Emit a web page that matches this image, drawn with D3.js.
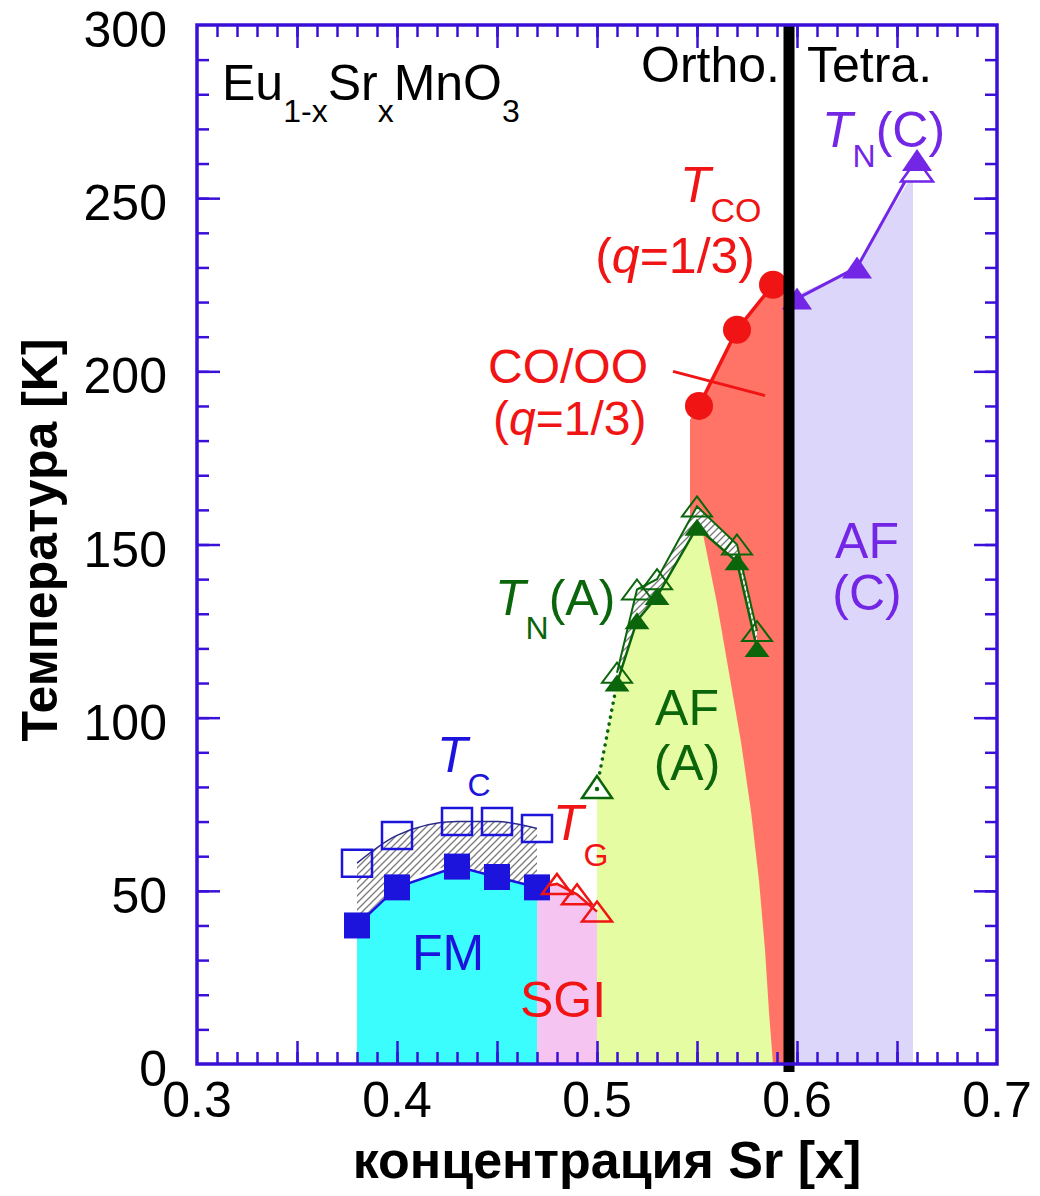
<!DOCTYPE html>
<html>
<head>
<meta charset="UTF-8">
<title>Eu1-xSrxMnO3 phase diagram</title>
<script src="https://cdn.jsdelivr.net/npm/d3@7"></script>
<style>
  body { margin: 0; background: #fff; }
  text { font-family: "Liberation Sans", Arial, Helvetica, sans-serif; }
  .tick-label { font-size: 50px; fill: #000; }
  .axis-title { font-size: 50px; font-weight: bold; fill: #000; }
  .lbl { font-size: 50px; }
</style>
</head>
<body>
<svg id="chart" width="1040" height="1196"></svg>
<script>
// ---- data (x = Sr concentration, T in K) ----
var xTickLabels = [0.3, 0.4, 0.5, 0.6, 0.7];
var yTickLabels = [0, 50, 100, 150, 200, 250, 300];

var fmX = [0.38, 0.40, 0.43, 0.45, 0.47];
var tcFilled = [40, 51, 57, 54, 51];      // filled squares
var tcOpen = [58, 66, 70, 70, 68];        // open squares

var tgX = [0.47, 0.48, 0.49, 0.50];
var tgVals = [51, 52, 49, 44];            // T_G open triangles (first = link to FM)

var tnaX = [0.51, 0.52, 0.53, 0.55, 0.57, 0.58];
var tnaFilled = [110, 128, 135, 155, 145, 120];
var tnaOpen = [113, 137, 140, 161, 150, 125];
var tnaLowX = [0.50, 0.51];               // dotted link
var tnaLow = [80, 110];

var coX = [0.551, 0.570, 0.588];
var coVals = [190, 212, 225];

var tncX = [0.60, 0.63, 0.66];
var tncVals = [221, 230, 261];
var tncOpenX = [0.66];
var tncOpen = [258];

// AF(A) / CO boundary below the T_N(A) peak
var afBoundX = [0.553, 0.560, 0.566, 0.572, 0.577, 0.581, 0.584, 0.586, 0.588];
var afBound = [153, 133, 113, 93, 73, 53, 33, 15, 0];

var orthoTetra = 0.596;   // structural boundary

// ---- setup ----
var svg = d3.select("#chart");
var x = d3.scaleLinear().domain([0.3, 0.7]).range([197, 997]);
var y = d3.scaleLinear().domain([0, 300]).range([1064, 25]);

var defs = svg.append("defs");
var pat = defs.append("pattern").attr("id", "hatch")
    .attr("patternUnits", "userSpaceOnUse").attr("width", 7).attr("height", 7);
pat.append("rect").attr("width", 7).attr("height", 7).attr("fill", "#fff");
pat.append("path").attr("d", "M0,7 L7,0 M-2,2 L2,-2 M5,9 L9,5")
    .attr("stroke", "#7a7a7a").attr("stroke-width", 1.3);

var pts = function(xs, ys) { return xs.map(function(v, i) { return [v, ys[i]]; }); };
var line = d3.line().x(d => x(d[0])).y(d => y(d[1]));
var poly = function(p) { return "M" + p.map(d => x(d[0]) + "," + y(d[1])).join("L") + "Z"; };

// ---- phase regions ----
var regions = svg.append("g");
// FM
regions.append("path")
    .attr("d", poly([[fmX[0], 0]].concat(pts(fmX, tcFilled), [[fmX[4], 0]])))
    .attr("fill", "#3cfdfd");
// SGI
regions.append("path")
    .attr("d", poly([[tgX[0], 0]].concat(pts(tgX, tgVals), [[tgX[3], 0]])))
    .attr("fill", "#f6c4f0");
// CO (red)
regions.append("path")
    .attr("d", poly([[0.5465, 0], [0.5465, 186]].concat(pts(coX, coVals), [[orthoTetra, 222], [orthoTetra, 0]])))
    .attr("fill", "#ff7466");
// AF(A)
regions.append("path")
    .attr("d", poly([[0.50, 0]].concat(pts(tnaLowX, tnaLow), pts(tnaX.slice(1, 4), tnaFilled.slice(1, 4)), pts(afBoundX, afBound))))
    .attr("fill", "#e6fca2");
// AF(C)
regions.append("path")
    .attr("d", poly([[orthoTetra, 0], [orthoTetra, 221]].concat(pts(tncX.slice(1), [230, 259]), [[0.658, 259], [0.658, 0]])))
    .attr("fill", "#dcd6fb");

// ---- hatched bands ----
svg.append("path")
    .attr("d", d3.area().x(d => x(d[0])).y0(d => y(d[1])).y1(d => y(d[2])).curve(d3.curveMonotoneX)(
        fmX.map((v, i) => [v, tcFilled[i], tcOpen[i]])))
    .attr("fill", "url(#hatch)");
svg.append("path")
    .attr("d", d3.area().x(d => x(d[0])).y0(d => y(d[1])).y1(d => y(d[2]))(
        tnaX.map((v, i) => [v, tnaFilled[i], tnaOpen[i]])))
    .attr("fill", "url(#hatch)");

// ---- lines ----
var blue = "#1c14dc", red = "#f01414", green = "#0b660b", purple = "#7326e6";
svg.append("path").attr("d", line.curve(d3.curveMonotoneX)(pts(fmX, tcOpen)))
    .attr("fill", "none").attr("stroke", "#2a2a8a").attr("stroke-width", 1.5);
line.curve(d3.curveLinear);
svg.append("path").attr("d", line(pts(fmX, tcFilled)))
    .attr("fill", "none").attr("stroke", blue).attr("stroke-width", 2.5);
svg.append("path").attr("d", line(pts(tgX, tgVals)))
    .attr("fill", "none").attr("stroke", red).attr("stroke-width", 2.5);
svg.append("path").attr("d", line(pts(tnaLowX, tnaLow)))
    .attr("fill", "none").attr("stroke", green).attr("stroke-width", 3.5)
    .attr("stroke-dasharray", "0.1,7").attr("stroke-linecap", "round");
svg.append("path").attr("d", line(pts(tnaX, tnaFilled)))
    .attr("fill", "none").attr("stroke", green).attr("stroke-width", 2.5);
svg.append("path").attr("d", line(pts(tnaX, tnaOpen)))
    .attr("fill", "none").attr("stroke", green).attr("stroke-width", 2);
svg.append("path").attr("d", line(pts(coX, coVals)))
    .attr("fill", "none").attr("stroke", red).attr("stroke-width", 3.5);
svg.append("path").attr("d", line(pts(tncX, tncVals)))
    .attr("fill", "none").attr("stroke", purple).attr("stroke-width", 3);
// CO/OO pointer
svg.append("path").attr("d", line([[0.538, 200], [0.584, 193]]))
    .attr("fill", "none").attr("stroke", red).attr("stroke-width", 3);

// ---- markers ----
function tri(w, h) { return "M0," + (-h / 2) + "L" + (w / 2) + "," + (h / 2) + "L" + (-w / 2) + "," + (h / 2) + "Z"; }
function markers(xs, ys, shape, fill, stroke, sw) {
    svg.append("g").selectAll("path").data(pts(xs, ys)).enter().append("path")
        .attr("transform", d => "translate(" + x(d[0]) + "," + y(d[1]) + ")")
        .attr("d", shape).attr("fill", fill).attr("stroke", stroke).attr("stroke-width", sw);
}
var sqOpen = "M-15,-13.5H15V13.5H-15Z", sqFill = "M-13,-13H13V13H-13Z";
markers(fmX, tcOpen, sqOpen, "none", blue, 2.5);
markers(fmX, tcFilled, sqFill, blue, "none", 0);
markers(tgX.slice(1), tgVals.slice(1), tri(30, 20), "none", red, 2.5);
markers(tnaX, tnaOpen, tri(30, 20), "none", green, 2);
markers(tnaX, tnaFilled, tri(25, 17), green, "none", 0);
markers([tnaLowX[0]], [tnaLow[0]], tri(30, 22), "#fff", green, 2.5);
svg.append("circle").attr("cx", x(tnaLowX[0])).attr("cy", y(tnaLow[0]) + 2).attr("r", 2.2).attr("fill", green);
svg.append("g").selectAll("circle").data(pts(coX, coVals)).enter().append("circle")
    .attr("cx", d => x(d[0])).attr("cy", d => y(d[1])).attr("r", 14).attr("fill", red);
markers(tncOpenX, tncOpen, tri(32, 22), "#fff", purple, 2.5);
markers(tncX, tncVals, tri(30, 22), purple, "none", 0);

// ---- Ortho / Tetra boundary ----
svg.append("line").attr("x1", x(orthoTetra)).attr("x2", x(orthoTetra))
    .attr("y1", y(300)).attr("y2", y(0) + 8)
    .attr("stroke", "#000").attr("stroke-width", 11);

// ---- frame and ticks ----
var axisColor = "#3a10d8";
var xMinor = d3.range(31, 70).map(v => v / 100);
var xMajor = d3.range(35, 70, 5).map(v => v / 100);
var yMinor = d3.range(10, 300, 10);
var yMajor = d3.range(50, 300, 50);
function ticks(axisGen, scale, minor, major, tr) {
    [[minor, -12], [major, -23]].forEach(function(p) {
        svg.append("g").attr("transform", tr)
            .call(axisGen(scale).tickValues(p[0]).tickSize(p[1]).tickSizeOuter(0).tickFormat(""))
            .call(g => g.select(".domain").remove())
            .selectAll("line").attr("stroke", axisColor).attr("stroke-width", 2.5);
    });
}
ticks(d3.axisBottom, x, xMinor, xMajor, "translate(0," + y(0) + ")");
ticks(d3.axisTop, x, xMinor, xMajor, "translate(0," + y(300) + ")");
ticks(d3.axisLeft, y, yMinor, yMajor, "translate(" + x(0.3) + ",0)");
ticks(d3.axisRight, y, yMinor, yMajor, "translate(" + x(0.7) + ",0)");
svg.append("rect").attr("x", x(0.3)).attr("y", y(300))
    .attr("width", x(0.7) - x(0.3)).attr("height", y(0) - y(300))
    .attr("fill", "none").attr("stroke", axisColor).attr("stroke-width", 3.5);

// tick labels
svg.append("g").selectAll("text").data(xTickLabels).enter().append("text")
    .attr("class", "tick-label").attr("x", d => x(d)).attr("y", y(0) + 53)
    .attr("text-anchor", "middle").text(d => d.toFixed(1));
svg.append("g").selectAll("text").data(yTickLabels).enter().append("text")
    .attr("class", "tick-label").attr("x", x(0.3) - 30).attr("y", d => y(d) + 22)
    .attr("text-anchor", "end").text(d => d);

// axis titles
svg.append("text").attr("class", "axis-title").attr("font-size", 52)
    .attr("x", 607).attr("y", 1178).attr("text-anchor", "middle")
    .style("font-size", "52px")
    .text("концентрация Sr [x]");
svg.append("text").attr("class", "axis-title")
    .attr("transform", "translate(57," + 540 + ") rotate(-90)")
    .attr("text-anchor", "middle").text("Температура [K]");

// ---- annotations ----
// parts: {t, it} normal text, {t, sub: dy, fs} subscript, {t, up: dy} back to baseline
function label(xv, tv, color, parts, anchor, size) {
    var t = svg.append("text").attr("class", "lbl").attr("x", x(xv)).attr("y", y(tv))
        .attr("fill", color).attr("text-anchor", anchor || "start");
    if (size) t.style("font-size", size + "px");
    parts.forEach(function(p) {
        var s = t.append("tspan").text(p.t);
        if (p.sub) s.style("font-size", (p.fs || 32) + "px").attr("dy", p.sub);
        if (p.up) s.attr("dy", p.up);
        if (p.it) s.attr("font-style", "italic");
    });
    return t;
}
label(0.3125, 278.4, "#000", [{t: "Eu"}, {t: "1-x", sub: 22}, {t: "Sr", up: -22}, {t: "x", sub: 22},
    {t: "MnO", up: -22}, {t: "3", sub: 22}]);
label(0.5915, 283.6, "#000", [{t: "Ortho."}], "end");
label(0.605, 283.6, "#000", [{t: "Tetra."}]);
label(0.6125, 264.8, purple, [{t: "T", it: true}, {t: "N", sub: 20}, {t: "(C)", up: -20}]);
label(0.5415, 249, red, [{t: "T", it: true}, {t: "CO", sub: 20, fs: 34}]);
label(0.579, 228.4, red, [{t: "("}, {t: "q", it: true}, {t: "=1/3)"}], "end");
label(0.4455, 196.5, red, [{t: "CO/OO"}], "start", 48);
label(0.448, 181.6, red, [{t: "("}, {t: "q", it: true}, {t: "=1/3)"}], "start", 48);
label(0.449, 129.7, green, [{t: "T", it: true}, {t: "N", sub: 24}, {t: "(A)", up: -24}]);
label(0.545, 97.9, green, [{t: "AF"}], "middle");
label(0.545, 82, green, [{t: "(A)"}], "middle");
label(0.635, 146, purple, [{t: "AF"}], "middle");
label(0.635, 131, purple, [{t: "(C)"}], "middle");
label(0.42, 84.3, blue, [{t: "T", it: true}, {t: "C", sub: 24}]);
label(0.478, 64.7, red, [{t: "T", it: true}, {t: "G", sub: 26}]);
label(0.4255, 27, blue, [{t: "FM"}], "middle");
label(0.483, 13.6, red, [{t: "SGI"}], "middle");
</script>
</body>
</html>
